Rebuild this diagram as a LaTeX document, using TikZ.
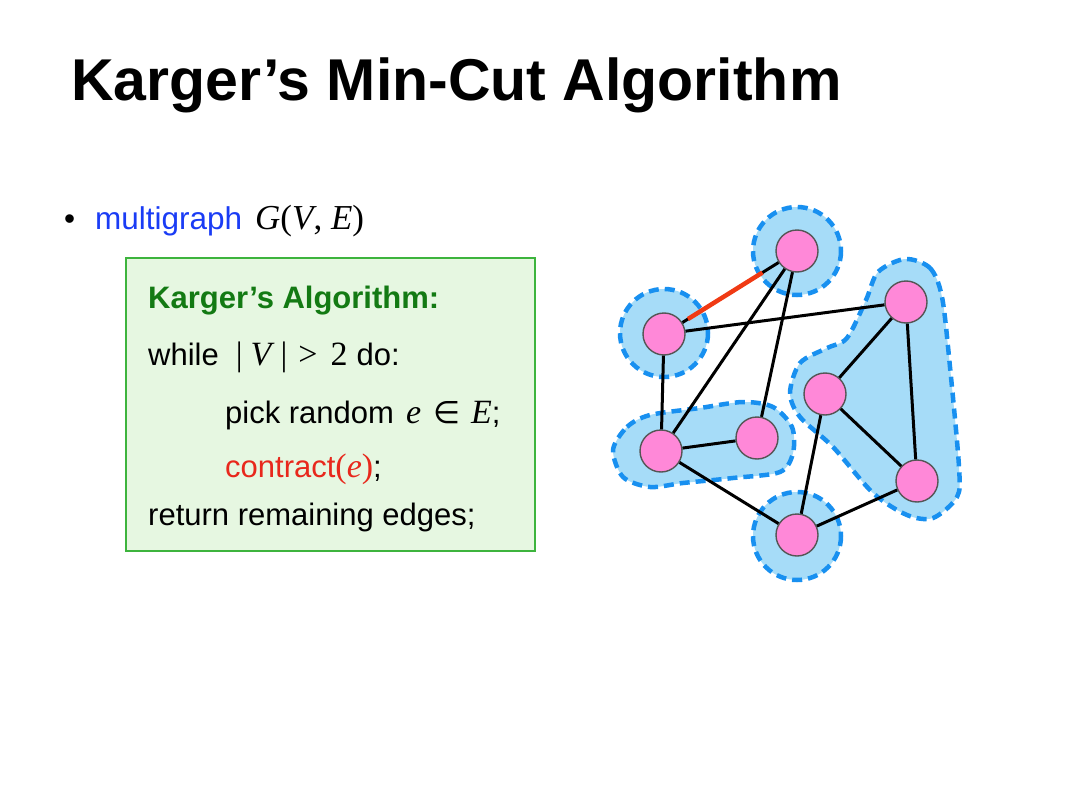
\documentclass[tikz,border=0pt]{standalone}
\usepackage{fontspec}
\setmainfont{Liberation Sans}
\newfontfamily\tms{Liberation Serif}
\newfontfamily\symf{DejaVu Sans}
\usetikzlibrary{calc}

\definecolor{vpink}{HTML}{FF88D8}
\definecolor{vgray}{HTML}{555555}
\definecolor{blobfill}{HTML}{A6DCF8}
\definecolor{blobdash}{HTML}{1890F0}
\definecolor{boxgreen}{HTML}{3DB43D}
\definecolor{boxfill}{HTML}{E6F7E1}
\definecolor{headgreen}{HTML}{137A13}
\definecolor{bulletblue}{HTML}{1A3CF5}
\definecolor{cred}{HTML}{E8281C}
\definecolor{ered}{HTML}{F03A14}

\newcommand\titlefont{\fontsize{59bp}{70bp}\selectfont\bfseries}
\newcommand\bulletfont{\fontsize{31.5bp}{38bp}\selectfont}
\newcommand\algofont{\fontsize{31bp}{36bp}\selectfont}
\newcommand\mth{\tms\fontsize{34bp}{36bp}\selectfont}

\begin{document}
\begin{tikzpicture}[x=1bp,y=-1bp,
  vertex/.style={draw=vgray,circle,fill=vpink,line width=1.4bp,minimum size=42bp,inner sep=0pt},
  blob/.style={fill=blobfill,draw=blobdash,line width=4.5bp,dash pattern=on 10bp off 6bp},
  edge/.style={line width=3bp},
  txt/.style={anchor=base west,inner sep=0pt}]
\useasboundingbox (0,0) rectangle (1080,809);

  % title and bullet
  \node[txt] (title) at (71,101) {\titlefont Karger’s Min-Cut Algorithm};
  \node[txt] (dot) at (64,229) {\bulletfont •};
  \node[txt,text=bulletblue] (multi) at (95,229) {\bulletfont multigraph};
  \node[txt] (gve) at (255,229) {\fontsize{35bp}{40bp}\selectfont\tms\itshape G\upshape(\itshape V\upshape, \itshape E\upshape)};

  % algorithm box
  \node[draw=boxgreen,fill=boxfill,line width=1.6bp,minimum width=409bp,minimum height=293bp,inner sep=0pt] (algo) at (330.5,404.5) {};
  \node[txt,text=headgreen] (head) at (148,308) {\algofont\bfseries Karger’s Algorithm:};
  \node[txt] (loop) at (148,365) {\algofont while\hspace{17bp}{\mth |\hspace{8bp}\textit{V}\hspace{6bp}|\hspace{11bp}>\hspace{13bp}2}\hspace{9bp}do:};
  \node[txt] (pick) at (225,423) {\algofont pick random\hspace{12bp}{\mth\textit{e}}\hspace{12bp}{\symf\fontsize{31bp}{36bp}\selectfont ∈}\hspace{11bp}{\mth\textit{E}};};
  \node[txt] (contr) at (225,477) {\algofont\textcolor{cred}{contract{\mth(\textit{e})}};};
  \node[txt] (ret) at (148,525) {\algofont return remaining edges;};

  % contracted groups
  \draw[blob] (797,251) circle (44);
  \draw[blob] (664,333) circle (44);
  \draw[blob] (797,536) circle (44);
  \draw[blob] plot[smooth cycle] coordinates {(613,450) (627,427) (650,415) (700,408) (743,402)
    (773,407) (792,427) (793,453) (780,472) (733,478) (683,483) (650,487) (623,477)};
  \draw[blob] plot[smooth cycle] coordinates {(905,259) (930,268) (942,297) (950,367) (959,467)
    (957,497) (933,518) (907,515) (873,493) (833,447) (800,417) (790,393) (800,363) (827,348)
    (847,338) (866,300) (878,272)};

  % vertices
  \node[vertex] (t) at (797,251) {};
  \node[vertex] (lu) at (664,334) {};
  \node[vertex] (ru) at (906,302) {};
  \node[vertex] (mr) at (825,394) {};
  \node[vertex] (ll) at (661,451) {};
  \node[vertex] (ml) at (757,438) {};
  \node[vertex] (rl) at (917,481) {};
  \node[vertex] (b) at (797,535) {};

  % edges
  \draw[edge] (t) -- (lu);
  \draw[edge] (t) -- (ll);
  \draw[edge] (t) -- (ml);
  \draw[edge] (lu) -- (ru);
  \draw[edge] (lu) -- (ll);
  \draw[edge] (ll) -- (ml);
  \draw[edge] (ll) -- (b);
  \draw[edge] (ru) -- (mr);
  \draw[edge] (ru) -- (rl);
  \draw[edge] (mr) -- (rl);
  \draw[edge] (mr) -- (b);
  \draw[edge] (rl) -- (b);
  \draw[ered,line width=4.5bp] ($(t)!0.26!(lu)$) -- ($(t)!0.82!(lu)$);

\end{tikzpicture}
\end{document}
